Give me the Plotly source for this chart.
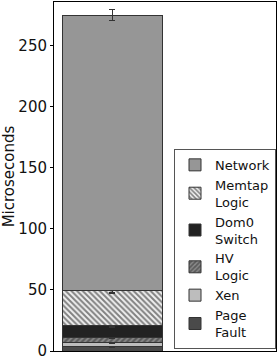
import plotly.graph_objects as go

# Data (stack order bottom -> top)
components = ["Page<br>Fault", "Xen", "HV<br>Logic", "Dom0<br>Switch", "Memtap<br>Logic", "Network"]
values = [4.0, 3.0, 4.2, 9.3, 28.7, 226.0]
errors = [1.2, 0.4, 0.8, 0.8, 1.8, 4.5]
category = ["A"]

ytick_vals = [0, 50, 100, 150, 200, 250]

styles = {
    "Page<br>Fault": dict(color="#4a4a4a", pattern=dict(shape="")),
    "Xen": dict(color="#bdbdbd", pattern=dict(shape="")),
    "HV<br>Logic": dict(color="#8a8a8a", pattern=dict(shape="/", fgcolor="#2a2a2a", bgcolor="#8a8a8a", size=4, solidity=0.55)),
    "Dom0<br>Switch": dict(color="#222222", pattern=dict(shape="")),
    "Memtap<br>Logic": dict(color="#f0f0f0", pattern=dict(shape="\\", fgcolor="#111111", bgcolor="#f0f0f0", size=4, solidity=0.5)),
    "Network": dict(color="#969696", pattern=dict(shape="")),
}

fig = go.Figure()
for name, v, e in zip(components, values, errors):
    st = styles[name]
    fig.add_trace(go.Bar(
        x=category, y=[v], name=name,
        width=1.0,
        marker=dict(color=st["color"], pattern=st["pattern"],
                    line=dict(color="#333333", width=1)),
        error_y=dict(type="data", array=[e], color="#333333", thickness=1.5, width=3),
    ))

fig.update_layout(
    width=277, height=362,
    barmode="stack",
    plot_bgcolor="white", paper_bgcolor="white",
    margin=dict(l=54, r=1, t=2, b=11, autoexpand=False),
    font=dict(family="DejaVu Sans", size=15, color="#111111"),
    legend=dict(
        traceorder="reversed",
        x=1.0, xanchor="right", y=0.006, yanchor="bottom",
        bgcolor="white", bordercolor="#555555", borderwidth=1,
        font=dict(size=13, family="DejaVu Sans"),
        itemwidth=30, tracegroupgap=0,
    ),
    xaxis=dict(
        type="category", range=[-0.583, 1.637], automargin=False,
        showticklabels=False, ticks="",
        showline=True, linecolor="black", linewidth=1, mirror=True,
        showgrid=False, zeroline=False,
    ),
    yaxis=dict(
        range=[0, 286], tickvals=ytick_vals, automargin=False,
        ticks="outside", ticklen=3, tickcolor="black",
        showline=True, linecolor="black", linewidth=1, mirror=True,
        showgrid=False, zeroline=False,
        title=dict(text="Microseconds", font=dict(size=15), standoff=0),
        tickfont=dict(size=15),
    ),
)

fig.write_html("out.html", config={"displayModeBar": False},
               post_script="document.body.style.margin='0';")
